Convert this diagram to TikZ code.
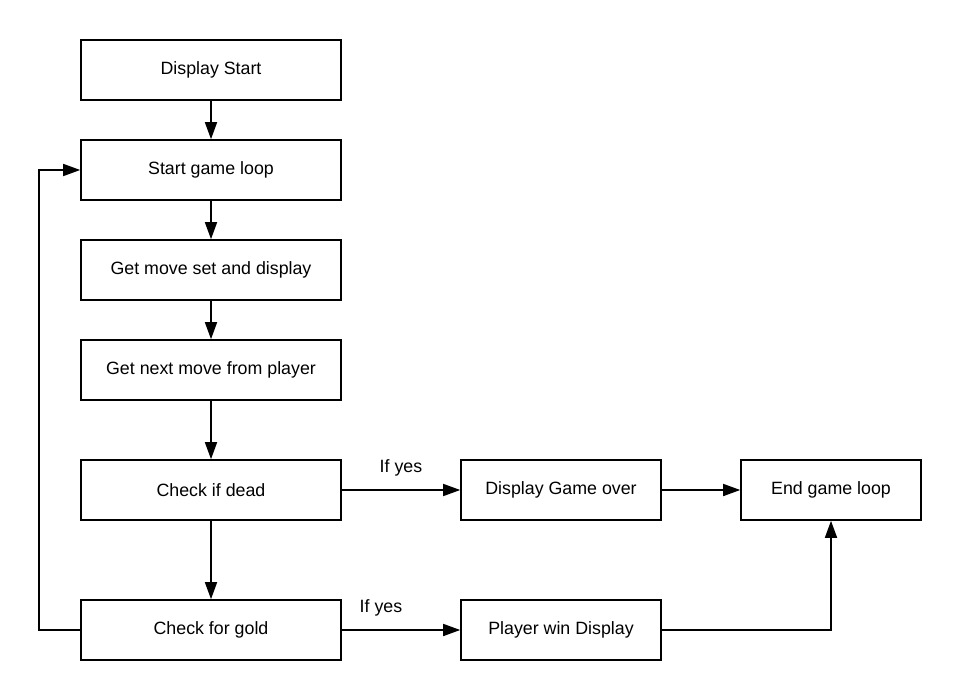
\documentclass[tikz,border=0pt]{standalone}
\usepackage{fontspec}
\setmainfont{Liberation Sans}
\usetikzlibrary{arrows.meta}
\begin{document}
\begin{tikzpicture}[x=1pt, y=-1pt, font=\fontsize{17.8}{21}\selectfont,
  box/.style={draw, line width=1.6pt, minimum height=60pt, inner sep=0pt},
  arr/.style={line width=1.6pt, -{Triangle[length=17pt, width=12pt]}}]
\useasboundingbox (0,0) rectangle (961,700);

\node [box, minimum width=260pt] (start) at (211, 70) {Display Start};
\node [box, minimum width=260pt] (loop) at (211, 170) {Start game loop};
\node [box, minimum width=260pt] (moveset) at (211, 270) {Get move set and display};
\node [box, minimum width=260pt] (nextmove) at (211, 370) {Get next move from player};
\node [box, minimum width=260pt] (dead) at (211, 490) {Check if dead};
\node [box, minimum width=260pt] (gold) at (211, 630) {Check for gold};

\node [box, minimum width=200pt] (over) at (561, 490) {Display Game over};
\node [box, minimum width=180pt] (end) at (831, 490) {End game loop};
\node [box, minimum width=200pt] (win) at (561, 630) {Player win Display};

\node (yesdead) at (401, 468) {If yes};
\node (yesgold) at (381, 608) {If yes};

\draw [arr] (start) -- (loop);
\draw [arr] (loop) -- (moveset);
\draw [arr] (moveset) -- (nextmove);
\draw [arr] (nextmove) -- (dead);
\draw [arr] (dead) -- (gold);
\draw [arr] (dead) -- (over);
\draw [arr] (over) -- (end);
\draw [arr] (gold) -- (win);
\draw [arr] (win.east) -| (end.south);
\draw [arr] (gold.west) -- ++(-41, 0) |- (loop.west);
\end{tikzpicture}
\end{document}
